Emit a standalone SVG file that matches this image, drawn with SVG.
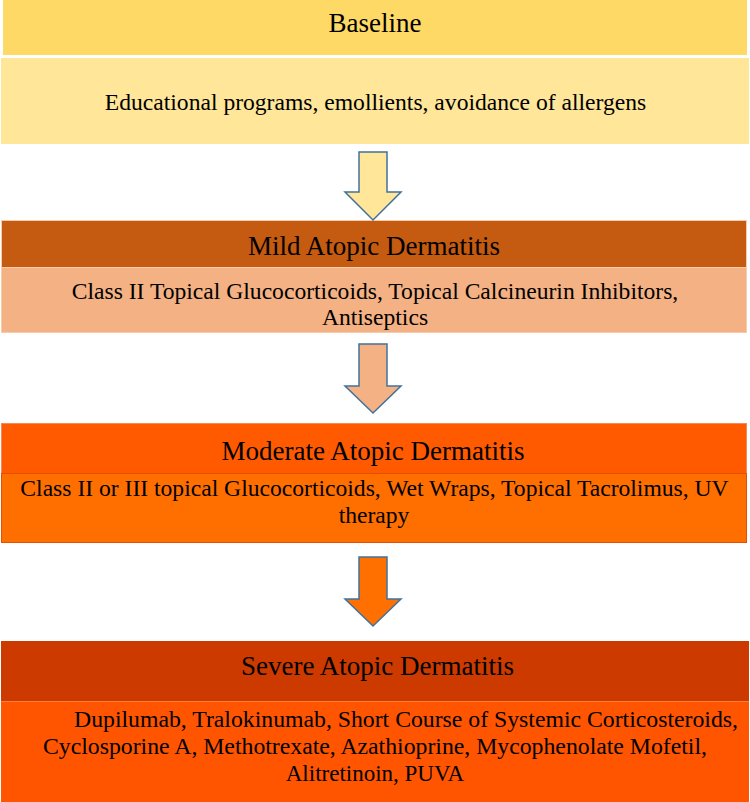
<svg xmlns="http://www.w3.org/2000/svg" width="750" height="802" viewBox="0 0 750 802">
<style>
  text { font-family: "Liberation Serif", "Times New Roman", serif; fill: #000; text-anchor: middle; }
  .h { font-size: 27px; }
  .b { font-size: 23.6px; }
  .s { font-size: 23px; }
  .arrow { stroke: #41719C; stroke-width: 1.5; stroke-linejoin: miter; }
</style>
<rect width="750" height="802" fill="#FFFFFF"/>
<g id="baseline">
  <rect x="3" y="0" width="744" height="55" fill="#FFD966"/>
  <rect x="1" y="58" width="748" height="86" fill="#FFE699"/>
  <text class="h" x="375" y="32">Baseline</text>
  <text class="b" x="375.5" y="110">Educational programs, emollients, avoidance of allergens</text>
</g>
<g id="mild">
  <rect x="1.5" y="220.5" width="745" height="47" fill="#C55A11" stroke="#F8CBAD" stroke-width="1"/>
  <rect x="1.5" y="267.5" width="745" height="65" fill="#F4B183" stroke="#F8CBAD" stroke-width="1"/>
  <text class="h" x="374" y="255">Mild Atopic Dermatitis</text>
  <text class="b" x="375" y="299">Class II Topical Glucocorticoids, Topical Calcineurin Inhibitors,</text>
  <text class="b" x="375" y="325">Antiseptics</text>
</g>
<g id="moderate">
  <rect x="1.5" y="423.5" width="745" height="50" fill="#FF5A00" stroke="#F4885A" stroke-width="1"/>
  <rect x="1.5" y="473.5" width="745" height="69" fill="#FF6F00" stroke="#E35000" stroke-width="1"/>
  <text class="h" x="373" y="460">Moderate Atopic Dermatitis</text>
  <text class="b" x="374.5" y="496">Class II or III topical Glucocorticoids, Wet Wraps, Topical Tacrolimus, UV</text>
  <text class="b" x="374" y="523">therapy</text>
</g>
<g id="severe">
  <rect x="1" y="641" width="748" height="60" fill="#CC3A00"/>
  <rect x="1" y="701" width="748" height="101" fill="#FF5500"/>
  <line x1="1" y1="701.5" x2="749" y2="701.5" stroke="#FF7A3D" stroke-width="1"/>
  <text class="h" x="377.5" y="675">Severe Atopic Dermatitis</text>
  <text class="s" x="406" y="727" textLength="664" lengthAdjust="spacingAndGlyphs">Dupilumab, Tralokinumab, Short Course of Systemic Corticosteroids,</text>
  <text class="s" x="375" y="754" textLength="664" lengthAdjust="spacingAndGlyphs">Cyclosporine A, Methotrexate, Azathioprine, Mycophenolate Mofetil,</text>
  <text class="s" x="375" y="781">Alitretinoin, PUVA</text>
</g>
<g id="connectors">
  <path class="arrow" fill="#FFE699" d="M359,152 H387 V192 H401 L373,220 L345,192 H359 Z"/>
  <path class="arrow" fill="#F4B183" d="M359,344 H387 V386 H401 L373,413 L345,386 H359 Z"/>
  <path class="arrow" fill="#FF7000" d="M359,557 H387 V599 H401 L373,626 L345,599 H359 Z"/>
</g>
</svg>
